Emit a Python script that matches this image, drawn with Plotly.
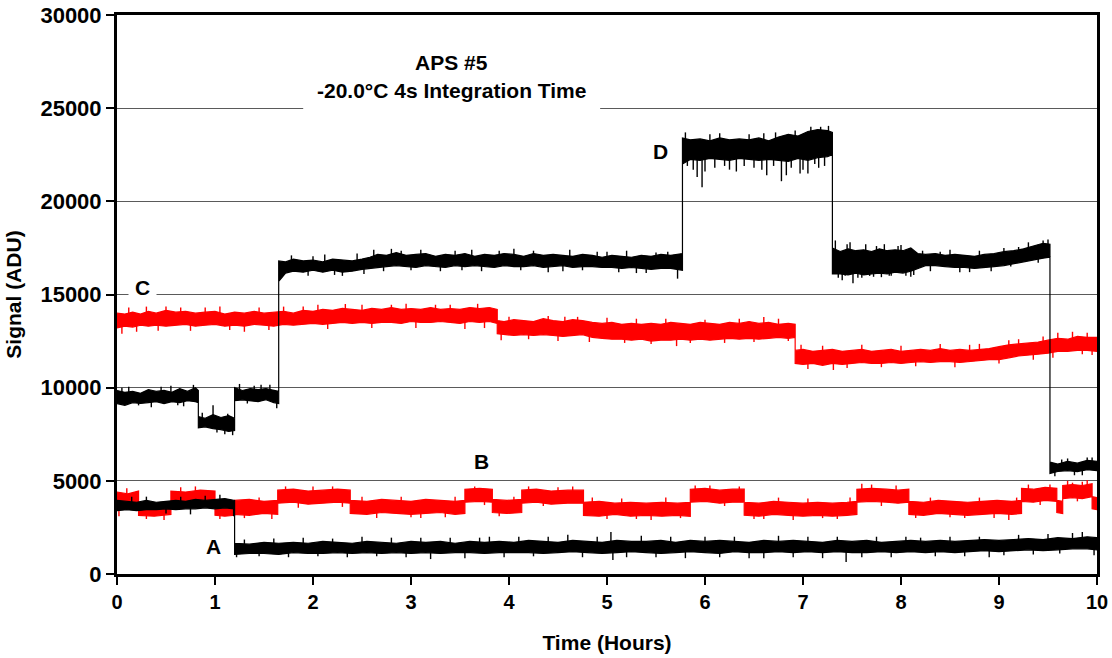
import plotly.graph_objects as go

# ---- axis ticks ----
X_TICKS = [0, 1, 2, 3, 4, 5, 6, 7, 8, 9, 10]
Y_TICKS = [0, 5000, 10000, 15000, 20000, 25000, 30000]

# ---- trace D (black, upper) : sample times, band top, band bottom ----
D_t = [0.00, 0.08, 0.16, 0.24, 0.32, 0.40, 0.48, 0.56, 0.64, 0.72, 0.80, 0.83,
       0.83, 0.90, 0.98, 1.06, 1.14, 1.20,
       1.20, 1.28, 1.36, 1.44, 1.52, 1.60, 1.65,
       1.65, 1.72, 1.80, 1.90, 2.00, 2.10, 2.20, 2.30, 2.40, 2.50, 2.58, 2.66,
       2.75, 2.85, 2.95, 3.05, 3.15, 3.25, 3.35, 3.45, 3.55, 3.65,
       3.75, 3.85, 3.95, 4.05, 4.15, 4.25, 4.35, 4.45, 4.55, 4.65,
       4.75, 4.85, 4.95, 5.05, 5.15, 5.25, 5.35, 5.45, 5.55, 5.65, 5.77,
       5.77, 5.85, 5.95, 6.05, 6.15, 6.25, 6.35, 6.45, 6.55, 6.65, 6.75,
       6.85, 6.95, 7.05, 7.15, 7.25, 7.30,
       7.30, 7.38, 7.46, 7.54, 7.62, 7.70, 7.78, 7.86, 7.94, 8.02, 8.10, 8.17,
       8.17, 8.25, 8.35, 8.45, 8.55, 8.65, 8.75, 8.85, 8.95, 9.05, 9.15, 9.25,
       9.35, 9.45, 9.52,
       9.52, 9.60, 9.70, 9.80, 9.90, 10.00]
D_hi = [9850, 9750, 9800, 9700, 9900, 9800, 9850, 9750, 9950, 9800, 10000, 9850,
        8450, 8350, 8550, 8400, 8500, 8350,
        10000, 9850, 9950, 9900, 9950, 9850, 9800,
        16800, 16750, 16900, 16800, 16850, 16750, 16900, 16850, 16800, 16900, 17000, 17150,
        17100, 17250, 17100, 17150, 17200, 17050, 17150, 17100, 17200, 17050,
        17150, 17100, 17200, 17150, 17050, 17200, 17100, 17150, 17100, 17050,
        17150, 17100, 17000, 17100, 17050, 17000, 17100, 17050, 17150, 17100, 17200,
        23400, 23300, 23350, 23250, 23400, 23300, 23350, 23300, 23400, 23250, 23450,
        23600, 23500, 23750, 23850, 23800, 23700,
        17500, 17300, 17450, 17350, 17400, 17300, 17450, 17350, 17400, 17350, 17500, 17200,
        17200, 17150, 17200, 17100, 17150, 17100, 17050, 17150, 17200, 17300, 17350, 17450,
        17600, 17750, 17700,
        6000, 5900, 6050, 5950, 6100, 6050]
D_lo = [9150, 9050, 9200, 9150, 9200, 9250, 9150, 9250, 9200, 9300, 9250, 9200,
        7850, 7900, 7800, 7750, 7650, 7700,
        9300, 9350, 9300, 9250, 9350, 9200, 9150,
        15700, 16150, 16250, 16200, 16300, 16200, 16300, 16200, 16250, 16350, 16400, 16450,
        16500, 16550, 16500, 16450, 16550, 16500, 16450, 16550, 16500, 16550,
        16500, 16450, 16550, 16500, 16500, 16550, 16450, 16500, 16550, 16450,
        16500, 16500, 16450, 16450, 16400, 16450, 16400, 16350, 16400, 16400, 16300,
        22000, 22250, 22200, 22300, 22250, 22200, 22300, 22250, 22200, 22250, 22200,
        22150, 22300, 22200, 22350, 22400, 22500,
        16100, 16100, 16050, 16150, 16050, 16100, 16150, 16100, 16200, 16150, 16250, 16400,
        16400, 16550, 16550, 16500, 16450, 16450, 16400, 16450, 16500, 16550, 16650, 16750,
        16850, 16950, 17000,
        5400, 5500, 5550, 5500, 5600, 5550]
# noise spikes: (time, value where the spike leaves the band, spike tip)
D_spikes = [
    (0.05, 9500, 10000), (0.12, 9500, 10050), (0.22, 9500, 9050), (0.35, 9500, 8950),
    (0.45, 9500, 10050), (0.55, 9500, 10100), (0.62, 9500, 9050), (0.68, 9500, 9000),
    (0.78, 9500, 10150),
    (0.87, 8100, 8650), (0.98, 8100, 9050), (1.02, 8100, 7600), (1.10, 8100, 7500),
    (1.13, 8100, 8600), (1.18, 8100, 7450),
    (1.25, 9600, 10200), (1.33, 9600, 9150), (1.40, 9600, 10100), (1.47, 9600, 10150),
    (1.56, 9600, 10150), (1.63, 9500, 8900),
    (1.78, 16550, 17100), (1.95, 16550, 16000), (2.00, 16550, 17050), (2.12, 16550, 17150),
    (2.22, 16550, 16050), (2.30, 16550, 16000), (2.45, 16600, 17200), (2.52, 16600, 16100),
    (2.62, 16800, 17400), (2.72, 16800, 16250), (2.80, 16800, 17450), (2.90, 16800, 17350),
    (3.00, 16800, 16300), (3.10, 16800, 17400), (3.30, 16800, 16250), (3.45, 16800, 17350),
    (3.52, 16800, 16300), (3.62, 16800, 17400), (3.72, 16800, 16250), (3.90, 16800, 17350),
    (4.05, 16800, 17450), (4.12, 16800, 16300), (4.25, 16800, 17350), (4.40, 16800, 16200),
    (4.55, 16800, 16250), (4.62, 16800, 17400), (4.75, 16800, 16300), (4.90, 16750, 17300),
    (5.00, 16750, 17300), (5.12, 16750, 16200), (5.20, 16750, 17350), (5.30, 16700, 16150),
    (5.40, 16700, 16150), (5.50, 16750, 17250), (5.62, 16700, 17300), (5.72, 16700, 15850),
    (5.80, 22800, 23700), (5.82, 22800, 21900), (5.88, 22800, 21700), (5.92, 22800, 21300),
    (5.97, 22800, 20760), (6.00, 22800, 21600), (6.05, 22800, 23600), (6.10, 22800, 21800),
    (6.15, 22800, 23650), (6.20, 22800, 21900), (6.25, 22800, 21700), (6.32, 22800, 21600),
    (6.40, 22800, 21900), (6.45, 22800, 23600), (6.50, 22800, 21800), (6.58, 22800, 21700),
    (6.60, 22800, 23650), (6.63, 22800, 21400), (6.70, 22900, 21900), (6.72, 22900, 23700),
    (6.78, 22900, 21080), (6.83, 22900, 21400), (6.88, 22900, 21800), (6.92, 22900, 23800),
    (6.97, 22900, 21500), (7.00, 23000, 21700), (7.05, 23000, 21500), (7.08, 23000, 24000),
    (7.12, 23000, 22000), (7.16, 23000, 21800), (7.18, 23000, 24000), (7.22, 23000, 21900),
    (7.26, 23000, 24050),
    (7.33, 16800, 17900), (7.36, 16800, 15900), (7.40, 16800, 15770), (7.43, 16800, 16000),
    (7.45, 16800, 17700), (7.48, 16800, 17800), (7.51, 16800, 15610), (7.56, 16800, 15900),
    (7.60, 16800, 15900), (7.64, 16800, 17700), (7.68, 16800, 16000), (7.72, 16800, 15950),
    (7.75, 16800, 17600), (7.80, 16800, 15930), (7.83, 16800, 17700), (7.88, 16800, 16000),
    (7.90, 16800, 16000), (7.97, 16800, 17600), (8.00, 16800, 17650), (8.05, 16800, 16000),
    (8.10, 16800, 15950), (8.13, 16800, 16050),
    (8.22, 16800, 17350), (8.30, 16800, 16250), (8.40, 16800, 17300), (8.50, 16800, 17400),
    (8.60, 16800, 16200), (8.70, 16700, 16200), (8.80, 16750, 17350), (8.92, 16750, 16250),
    (9.05, 16900, 17500), (9.12, 16900, 16500), (9.20, 17000, 17550), (9.30, 17100, 17800),
    (9.40, 17200, 16700), (9.45, 17300, 17900), (9.50, 17300, 17950),
    (9.57, 5750, 5250), (9.64, 5750, 6150), (9.70, 5750, 6200), (9.77, 5750, 5300),
    (9.85, 5750, 5300), (9.90, 5800, 6250), (9.95, 5800, 6250),
]

# ---- trace C (red, upper) ----
C_t = [0.00, 0.08, 0.16, 0.24, 0.32, 0.40,
       0.50, 0.60, 0.70, 0.80, 0.90, 1.00, 1.10, 1.20, 1.30, 1.40,
       1.50, 1.60, 1.70, 1.80, 1.90, 2.00, 2.10, 2.20, 2.30, 2.40,
       2.50, 2.60, 2.70, 2.80, 2.90, 3.00, 3.10, 3.20, 3.30, 3.40,
       3.50, 3.60, 3.70, 3.80, 3.88,
       3.88, 3.95,
       4.05, 4.15, 4.25, 4.35, 4.45, 4.55, 4.65, 4.75, 4.85, 4.95,
       5.05, 5.15, 5.25, 5.35, 5.45, 5.55, 5.65, 5.75, 5.85, 5.95,
       6.05, 6.15, 6.25, 6.35, 6.45, 6.55, 6.65, 6.75, 6.85, 6.92,
       6.92,
       7.00, 7.10, 7.20, 7.30, 7.40, 7.50, 7.60, 7.70, 7.80, 7.90,
       8.00, 8.10, 8.20, 8.30, 8.40, 8.50, 8.60, 8.70, 8.80, 8.90,
       9.00, 9.10, 9.20, 9.30, 9.40, 9.50, 9.60, 9.70, 9.80, 9.90,
       10.00]
C_hi = [14000, 13950, 14050, 13950, 14100, 14000,
        14150, 14050, 14100, 14000, 14050, 14100, 13950, 14050, 14000, 14100,
        14000, 14050, 14100, 14000, 14150, 14100, 14200, 14150, 14250, 14200,
        14150, 14250, 14200, 14300, 14200, 14250, 14200, 14300, 14200, 14250,
        14200, 14300, 14250, 14300, 14200,
        13600, 13550,
        13650, 13600, 13550, 13700, 13600, 13550, 13650, 13600, 13500, 13450,
        13500, 13400, 13450, 13400, 13450, 13400, 13500, 13450, 13400, 13500,
        13450, 13400, 13500, 13450, 13550, 13450, 13500, 13400, 13450, 13400,
        12000,
        12050, 11950, 12000, 12050, 11950, 12000, 12050, 11950, 12000, 12050,
        11950, 12000, 12050, 12000, 12100, 12000, 12050, 12000, 12050, 12100,
        12200, 12300, 12350, 12400, 12450, 12550, 12650, 12600, 12750, 12700,
        12700]
C_lo = [13200, 13300, 13250, 13350, 13300, 13350,
        13300, 13350, 13400, 13300, 13350, 13400, 13300, 13350, 13300, 13400,
        13350, 13300, 13400, 13350, 13400, 13450, 13400, 13450, 13500, 13450,
        13500, 13450, 13500, 13500, 13450, 13550, 13500, 13500, 13550, 13500,
        13450, 13550, 13500, 13550, 13450,
        12900, 12850,
        12800, 12850, 12800, 12850, 12800, 12750, 12800, 12850, 12700, 12650,
        12600, 12600, 12550, 12600, 12500, 12550, 12550, 12600, 12550, 12600,
        12550, 12600, 12650, 12600, 12650, 12600, 12650, 12700, 12650, 12700,
        11300,
        11250, 11300, 11200, 11300, 11250, 11300, 11350, 11300, 11300, 11350,
        11300, 11350, 11400, 11350, 11400, 11400, 11350, 11400, 11450, 11500,
        11500, 11600, 11700, 11750, 11800, 11850, 11950, 11950, 12000, 12000,
        11950]
C_spikes = [
    (0.05, 13650, 12900), (0.12, 13650, 14300), (0.20, 13650, 13000), (0.30, 13650, 14350),
    (0.42, 13650, 13050), (0.50, 13650, 14350), (0.65, 13700, 14300), (0.75, 13700, 13050),
    (0.90, 13700, 14300), (1.05, 13700, 14350), (1.15, 13700, 13100), (1.30, 13700, 13000),
    (1.45, 13700, 14300), (1.55, 13700, 13100), (1.70, 13750, 14350), (1.90, 13750, 14350),
    (2.05, 13800, 14450), (2.15, 13800, 13150), (2.33, 13800, 14490), (2.50, 13800, 14450),
    (2.60, 13850, 13200), (2.80, 13850, 14450), (2.95, 13850, 14500), (3.05, 13850, 13200),
    (3.25, 13850, 14450), (3.40, 13850, 14450), (3.55, 13850, 13150), (3.68, 13850, 14500),
    (3.75, 13850, 13200),
    (3.92, 13250, 12550), (4.00, 13250, 13800), (4.20, 13200, 12600), (4.40, 13200, 13850),
    (4.50, 13200, 12500), (4.57, 13250, 13800), (4.70, 13150, 13800), (4.82, 13100, 12450),
    (5.00, 13050, 13750), (5.18, 12950, 12400), (5.30, 13000, 13700), (5.45, 12950, 12350),
    (5.60, 12950, 13700), (5.71, 12950, 12230), (5.85, 12950, 12400), (6.00, 13000, 13650),
    (6.20, 13000, 12400), (6.35, 13000, 13700), (6.50, 13000, 12450), (6.60, 13000, 13790),
    (6.75, 13000, 13700), (6.85, 13000, 12500),
    (6.98, 11650, 12300), (7.05, 11650, 11000), (7.20, 11650, 12250), (7.31, 11650, 10950),
    (7.45, 11650, 11050), (7.60, 11650, 12300), (7.80, 11650, 11100), (8.00, 11650, 12250),
    (8.15, 11700, 11150), (8.40, 11750, 12350), (8.55, 11750, 11100), (8.70, 11750, 12300),
    (8.80, 11800, 12350), (9.00, 11850, 11300), (9.10, 11950, 12550), (9.20, 12000, 12600),
    (9.35, 12100, 11500), (9.45, 12150, 12750), (9.55, 12200, 11600), (9.60, 12300, 12950),
    (9.75, 12350, 13000), (9.85, 12350, 11800), (9.90, 12350, 12950), (9.95, 12350, 11750),
]

# ---- trace B (red, lower) ----
B_t = [0.00, 0.11, 0.22,
       0.22, 0.38, 0.55,
       0.55, 0.70, 0.85, 1.00,
       1.00, 1.10, 1.20,
       1.20, 1.35, 1.50, 1.64,
       1.64, 1.80, 1.95, 2.10, 2.25, 2.38,
       2.38, 2.55, 2.70, 2.85, 3.00, 3.15, 3.30, 3.45, 3.55,
       3.55, 3.70, 3.83,
       3.83, 3.98, 4.13,
       4.13, 4.28, 4.43, 4.60, 4.76,
       4.76, 4.92, 5.08, 5.24, 5.40, 5.56, 5.72, 5.85,
       5.85, 6.00, 6.15, 6.28, 6.40,
       6.40, 6.55, 6.70, 6.85, 7.00, 7.15, 7.30, 7.45, 7.55,
       7.55, 7.70, 7.85, 7.97, 8.08,
       8.08, 8.23, 8.38, 8.53, 8.68, 8.83, 8.98, 9.13, 9.23,
       9.23, 9.35, 9.47, 9.59,
       9.59, 9.65,
       9.65, 9.75, 9.85, 9.95,
       9.95, 10.00]
B_hi = [4400, 4300, 4450,
        3800, 3750, 3850,
        4450, 4400, 4500, 4450,
        3850, 3800, 3800,
        3950, 4000, 3900, 3950,
        4500, 4550, 4450, 4500, 4550, 4500,
        3950, 3900, 4000, 3950, 3900, 4000, 3950, 3900, 3950,
        4550, 4600, 4550,
        4000, 3950, 4000,
        4500, 4550, 4450, 4500, 4500,
        3850, 3900, 3800, 3850, 3800, 3850, 3800, 3850,
        4550, 4600, 4500, 4550, 4550,
        3850, 3800, 3900, 3850, 3800, 3850, 3800, 3850, 3900,
        4550, 4600, 4550, 4500, 4550,
        3900, 3850, 3950, 3900, 3850, 3900, 3950, 3900, 3950,
        4600, 4550, 4650, 4600,
        3950, 3900,
        4750, 4800, 4750, 4850,
        4150, 4100]
B_lo = [3750, 3700, 3800,
        3150, 3100, 3200,
        3800, 3750, 3850, 3800,
        3150, 3100, 3150,
        3200, 3150, 3250, 3200,
        3800, 3850, 3750, 3800, 3850, 3800,
        3250, 3200, 3300, 3250, 3200, 3250, 3300, 3200, 3250,
        3850, 3900, 3850,
        3300, 3250, 3300,
        3800, 3850, 3750, 3800, 3800,
        3150, 3100, 3200, 3100, 3150, 3100, 3150, 3100,
        3850, 3900, 3800, 3850, 3850,
        3150, 3100, 3200, 3150, 3100, 3150, 3100, 3150, 3200,
        3850, 3900, 3850, 3800, 3850,
        3200, 3150, 3250, 3200, 3150, 3200, 3250, 3200, 3250,
        3900, 3850, 3950, 3900,
        3300, 3250,
        4050, 4100, 4050, 4150,
        3500, 3450]
B_spikes = [
    (0.02, 3900, 3100), (0.10, 4000, 4600), (0.30, 3450, 2950), (0.48, 3450, 2900),
    (0.65, 4150, 4650), (0.80, 4150, 4700), (1.05, 3450, 2950), (1.30, 3550, 3000),
    (1.45, 3550, 4100), (1.58, 3550, 2950), (1.72, 4150, 4700), (1.85, 4150, 3550),
    (2.00, 4150, 4700), (2.20, 4150, 4700), (2.30, 4150, 3600), (2.50, 3600, 4150),
    (2.65, 3600, 3000), (2.90, 3600, 4150), (3.00, 3600, 3050), (3.10, 3600, 3000),
    (3.35, 3600, 3050), (3.45, 3600, 4150), (3.65, 4200, 4700), (3.75, 4200, 3700),
    (3.90, 3650, 3100), (4.05, 3650, 4150), (4.20, 4150, 4700), (4.35, 4150, 3650),
    (4.50, 4150, 4650), (4.65, 4150, 4700), (4.85, 3500, 4100), (5.00, 3500, 2950),
    (5.15, 3500, 4050), (5.30, 3500, 2950), (5.45, 3500, 2900), (5.60, 3500, 4100),
    (5.75, 3500, 3000), (5.90, 4200, 4750), (6.05, 4200, 4750), (6.20, 4200, 3650),
    (6.35, 4200, 4700), (6.50, 3500, 2950), (6.60, 3500, 2950), (6.75, 3500, 4100),
    (6.90, 3500, 2900), (7.05, 3500, 4050), (7.20, 3500, 3000), (7.35, 3500, 2950),
    (7.48, 3500, 4100), (7.60, 4200, 4850), (7.70, 4200, 4800), (7.80, 4200, 3650),
    (7.95, 4200, 4750), (8.15, 3550, 3000), (8.30, 3550, 4100), (8.50, 3550, 3050),
    (8.65, 3550, 3000), (8.80, 3550, 4100), (8.95, 3550, 3000), (9.10, 3550, 2900),
    (9.18, 3550, 4100), (9.30, 4250, 4800), (9.42, 4250, 3700), (9.52, 4250, 4800),
    (9.70, 4400, 5000), (9.75, 4400, 4900), (9.80, 4400, 3900), (9.85, 4400, 4950),
    (9.90, 4400, 5050),
]

# ---- trace A (black, lower) ----
A_t = [0.00, 0.10, 0.20, 0.30, 0.40, 0.50, 0.60, 0.70, 0.80, 0.90, 1.00, 1.10, 1.20,
       1.20, 1.35, 1.50, 1.65, 1.80, 1.95, 2.10, 2.25, 2.40, 2.55,
       2.70, 2.85, 3.00, 3.15, 3.30, 3.45, 3.60, 3.75, 3.90, 4.05,
       4.20, 4.35, 4.50, 4.65, 4.80, 4.95, 5.10, 5.25, 5.40, 5.55,
       5.70, 5.85, 6.00, 6.15, 6.30, 6.45, 6.60, 6.75, 6.90, 7.05,
       7.20, 7.35, 7.50, 7.65, 7.80, 7.95, 8.10, 8.25, 8.40, 8.55,
       8.70, 8.85, 9.00, 9.15, 9.30, 9.45, 9.60, 9.75, 9.90, 10.00]
A_hi = [3950, 3900, 3850, 3950, 3850, 3900, 3950, 3900, 4000, 3950, 4000, 4050, 3950,
        1650, 1600, 1700, 1650, 1700, 1650, 1750, 1700, 1650, 1750,
        1700, 1650, 1750, 1700, 1750, 1650, 1750, 1700, 1750, 1700,
        1800, 1750, 1700, 1800, 1750, 1700, 1800, 1750, 1750, 1800,
        1700, 1800, 1750, 1800, 1750, 1700, 1800, 1750, 1800, 1750,
        1700, 1800, 1750, 1800, 1700, 1750, 1800, 1750, 1800, 1750,
        1800, 1850, 1800, 1850, 1900, 1850, 1950, 1900, 2000, 1950]
A_lo = [3400, 3450, 3400, 3450, 3450, 3500, 3450, 3500, 3500, 3550, 3500, 3550, 3500,
        1050, 1100, 1100, 1050, 1150, 1100, 1100, 1150, 1100, 1150,
        1100, 1150, 1100, 1150, 1100, 1150, 1150, 1100, 1150, 1150,
        1150, 1100, 1150, 1200, 1150, 1100, 1150, 1200, 1150, 1100,
        1150, 1200, 1150, 1100, 1200, 1150, 1150, 1200, 1150, 1200,
        1150, 1200, 1150, 1150, 1200, 1150, 1200, 1150, 1200, 1150,
        1200, 1250, 1200, 1250, 1300, 1250, 1300, 1350, 1350, 1300]
A_spikes = [
    (0.15, 3700, 4150), (0.30, 3700, 4150), (0.50, 3700, 3250), (0.65, 3700, 4150),
    (0.75, 3750, 3200), (0.90, 3750, 4200), (1.05, 3750, 4250), (1.19, 3700, 3100),
    (1.22, 1350, 900), (1.30, 1350, 1850), (1.45, 1350, 950), (1.60, 1400, 1900),
    (1.75, 1400, 900), (1.90, 1400, 1950), (2.05, 1400, 950), (2.20, 1400, 1900),
    (2.35, 1400, 900), (2.50, 1400, 2000), (2.65, 1400, 950), (2.80, 1400, 1950),
    (2.95, 1400, 900), (3.10, 1400, 1950), (3.20, 1400, 800), (3.40, 1400, 1950),
    (3.55, 1400, 850), (3.70, 1400, 1950), (3.80, 1400, 2000), (3.95, 1400, 900),
    (4.10, 1400, 2000), (4.25, 1450, 950), (4.40, 1450, 2000), (4.60, 1450, 2100),
    (4.75, 1450, 900), (4.90, 1450, 2000), (5.04, 1450, 2250), (5.06, 1400, 750),
    (5.20, 1450, 900), (5.35, 1450, 2050), (5.50, 1450, 900), (5.65, 1450, 2000),
    (5.80, 1450, 850), (6.00, 1450, 2000), (6.15, 1450, 900), (6.30, 1450, 2000),
    (6.45, 1450, 850), (6.60, 1450, 850), (6.75, 1450, 2050), (6.90, 1450, 900),
    (7.05, 1450, 2000), (7.20, 1450, 850), (7.35, 1450, 2000), (7.44, 1450, 650),
    (7.60, 1450, 900), (7.75, 1450, 2000), (7.90, 1450, 900), (8.05, 1450, 2000),
    (8.20, 1500, 1950), (8.35, 1500, 950), (8.50, 1500, 2000), (8.65, 1500, 950),
    (8.80, 1500, 2000), (8.90, 1450, 900), (9.05, 1500, 1000), (9.20, 1550, 2100),
    (9.35, 1550, 1050), (9.50, 1600, 2150), (9.62, 1600, 1100), (9.75, 1650, 2200),
    (9.85, 1650, 2250), (9.97, 1700, 1000),
]

# ---- labels ----
TITLE_LINES = ["APS #5", "-20.0°C 4s Integration Time"]
CURVE_LABELS = ["A", "B", "C", "D"]
CURVE_LABEL_X = [0.98, 3.72, 0.265, 5.55]
CURVE_LABEL_Y = [1500, 6050, 15350, 22700]

RED = "#ff0000"
BLACK = "#000000"
FONT = "Liberation Sans, Arial, Helvetica, sans-serif"

fig = go.Figure()


def add_band(t, hi, lo, color):
    # noisy record drawn as the filled envelope between its top and bottom edges
    fig.add_trace(go.Scatter(
        x=list(t) + list(t)[::-1],
        y=list(hi) + list(lo)[::-1],
        mode="lines", fill="toself", fillcolor=color,
        line=dict(color=color, width=1.2),
        hoverinfo="skip", showlegend=False))


def add_spikes(spikes, color):
    xs, ys = [], []
    for ti, b, p in spikes:
        xs += [ti, ti, None]
        ys += [b, p, None]
    fig.add_trace(go.Scatter(x=xs, y=ys, mode="lines",
                             line=dict(color=color, width=1.4),
                             hoverinfo="skip", showlegend=False))


# red records first, black records on top
add_band(B_t, B_hi, B_lo, RED)
add_spikes(B_spikes, RED)
add_band(C_t, C_hi, C_lo, RED)
add_spikes(C_spikes, RED)
add_band(A_t, A_hi, A_lo, BLACK)
add_spikes(A_spikes, BLACK)
add_band(D_t, D_hi, D_lo, BLACK)
add_spikes(D_spikes, BLACK)

# white panel behind the title, hiding the gridline there
fig.add_shape(type="rect", xref="x", yref="y", x0=1.90, x1=4.93, y0=24880, y1=28800,
              fillcolor="white", line=dict(width=0), layer="between")

fig.add_annotation(x=3.41, y=27470, xref="x", yref="y", text=TITLE_LINES[0],
                   showarrow=False, font=dict(family=FONT, size=21, color="black", weight="bold"))
fig.add_annotation(x=3.41, y=25970, xref="x", yref="y", text=TITLE_LINES[1],
                   showarrow=False, font=dict(family=FONT, size=21, color="black", weight="bold"))

for name, lx, ly in zip(CURVE_LABELS, CURVE_LABEL_X, CURVE_LABEL_Y):
    fig.add_annotation(x=lx, y=ly, xref="x", yref="y", text=name, showarrow=False,
                       bgcolor="white" if name == "C" else "rgba(0,0,0,0)",
                       borderpad=6,
                       font=dict(family=FONT, size=21, color="black", weight="bold"))

axis_common = dict(
    showline=True, linecolor="black", linewidth=3, mirror=True,
    ticks="outside", ticklen=8, tickwidth=2, tickcolor="black",
    zeroline=False,
)

fig.update_xaxes(
    range=[0, 10], tickvals=X_TICKS, ticktext=[str(v) for v in X_TICKS],
    showgrid=False,
    tickfont=dict(family=FONT, size=20, color="black", weight="bold"),
    title=dict(text="Time (Hours)", standoff=24,
               font=dict(family=FONT, size=21, color="black", weight="bold")),
    **axis_common)

fig.update_yaxes(
    range=[0, 30000], tickvals=Y_TICKS, ticktext=[str(v) for v in Y_TICKS],
    showgrid=True, gridcolor="#5a5a5a", gridwidth=1,
    tickfont=dict(family=FONT, size=22, color="black", weight="bold"),
    title=dict(text="Signal (ADU)", standoff=14,
               font=dict(family=FONT, size=21, color="black", weight="bold")),
    **axis_common)

fig.update_layout(
    width=1112, height=658,
    margin=dict(l=117, r=15, t=15, b=84, autoexpand=False),
    plot_bgcolor="white", paper_bgcolor="white",
    showlegend=False,
    font=dict(family=FONT, color="black"),
)

fig.write_html("out.html")
